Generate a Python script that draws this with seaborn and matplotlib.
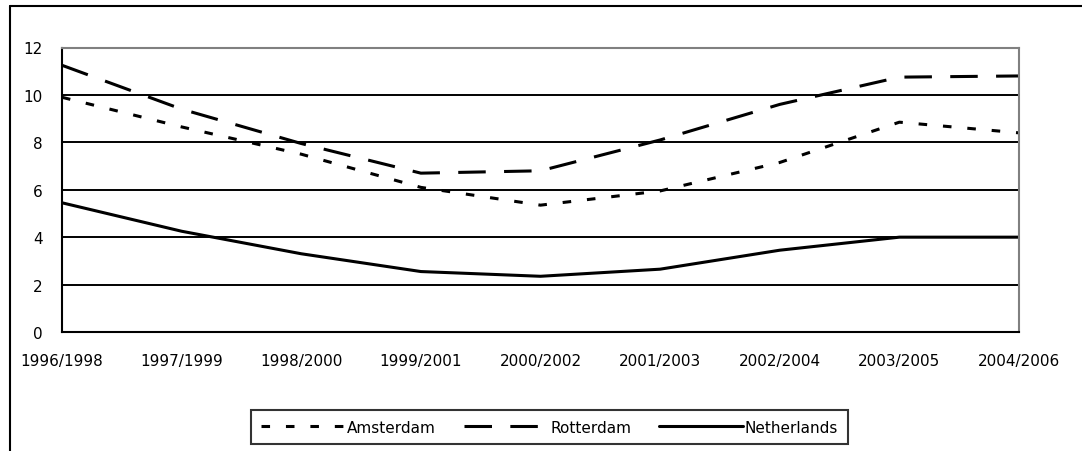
import matplotlib
matplotlib.use("Agg")
import matplotlib.pyplot as plt
from matplotlib.lines import Line2D
import pandas as pd
import seaborn as sns

periods = ["1996/1998", "1997/1999", "1998/2000", "1999/2001", "2000/2002",
           "2001/2003", "2002/2004", "2003/2005", "2004/2006"]
amsterdam = [9.9, 8.65, 7.5, 6.1, 5.35, 5.95, 7.15, 8.85, 8.4]
rotterdam = [11.25, 9.4, 7.95, 6.7, 6.8, 8.1, 9.6, 10.75, 10.8]
netherlands = [5.45, 4.25, 3.3, 2.55, 2.35, 2.65, 3.45, 4.0, 4.0]
y_ticks = [0, 2, 4, 6, 8, 10, 12]

series = {"Amsterdam": amsterdam, "Rotterdam": rotterdam, "Netherlands": netherlands}
df = pd.DataFrame(
    [(i, name, v) for name, vals in series.items() for i, v in enumerate(vals)],
    columns=["pos", "region", "value"],
)

sns.set_style("white")
plt.rcParams["font.family"] = ["DejaVu Sans"]
plt.rcParams["text.color"] = "black"

fig = plt.figure(figsize=(10.82, 4.52), dpi=100)
ax = fig.add_axes([62 / 1082, 119 / 452, (1019 - 62) / 1082, (333 - 48.5) / 452])

dash_styles = {"Amsterdam": (2.8, 5.2), "Rotterdam": (9.0, 6.0), "Netherlands": ""}
sns.lineplot(data=df, x="pos", y="value", hue="region", style="region",
             palette=["black"] * 3, dashes=dash_styles, linewidth=2.2,
             ax=ax, legend=False)

ax.set_xlim(0, len(periods) - 1)
ax.set_ylim(0, 12)
ax.set_xticks(range(len(periods)))
ax.set_xticklabels(periods)
ax.set_yticks(y_ticks)
ax.set_xlabel("")
ax.set_ylabel("")

# horizontal gridlines
for v in y_ticks[1:-1]:
    ax.axhline(v, color="black", linewidth=1.4, zorder=0.5)

for side in ("left", "bottom"):
    ax.spines[side].set_color("black")
    ax.spines[side].set_linewidth(1.5)
for side in ("top", "right"):
    ax.spines[side].set_color("#808080")
    ax.spines[side].set_linewidth(1.5)
    ax.spines[side].set_visible(True)

ax.tick_params(axis="both", which="major", direction="out", color="black",
               labelsize=11, labelcolor="black", width=1.5)
ax.tick_params(axis="y", length=5, pad=9)
ax.tick_params(axis="x", length=6, pad=9)

handles = [
    Line2D([], [], color="black", linewidth=2.2, dashes=dash_styles["Amsterdam"]),
    Line2D([], [], color="black", linewidth=2.2, dashes=dash_styles["Rotterdam"]),
    Line2D([], [], color="black", linewidth=2.2),
]
leg = fig.legend(handles, list(series.keys()), loc="center",
                 bbox_to_anchor=(0.508, 0.053), ncol=3, fontsize=11,
                 handlelength=5.5, handletextpad=0.15, columnspacing=1.8,
                 frameon=True, fancybox=False, borderpad=0.65)
leg.get_frame().set_edgecolor("black")
leg.get_frame().set_linewidth(1.5)
for t in leg.get_texts():
    t.set_color("black")

# chart area border (top and left edges)
fig.add_artist(Line2D([10 / 1082, 1.0], [1 - 7 / 452, 1 - 7 / 452],
                      transform=fig.transFigure, color="black", linewidth=1.5))
fig.add_artist(Line2D([10 / 1082, 10 / 1082], [0.0, 1 - 7 / 452],
                      transform=fig.transFigure, color="black", linewidth=1.5))

fig.savefig("out.png", dpi=100, facecolor="white")
